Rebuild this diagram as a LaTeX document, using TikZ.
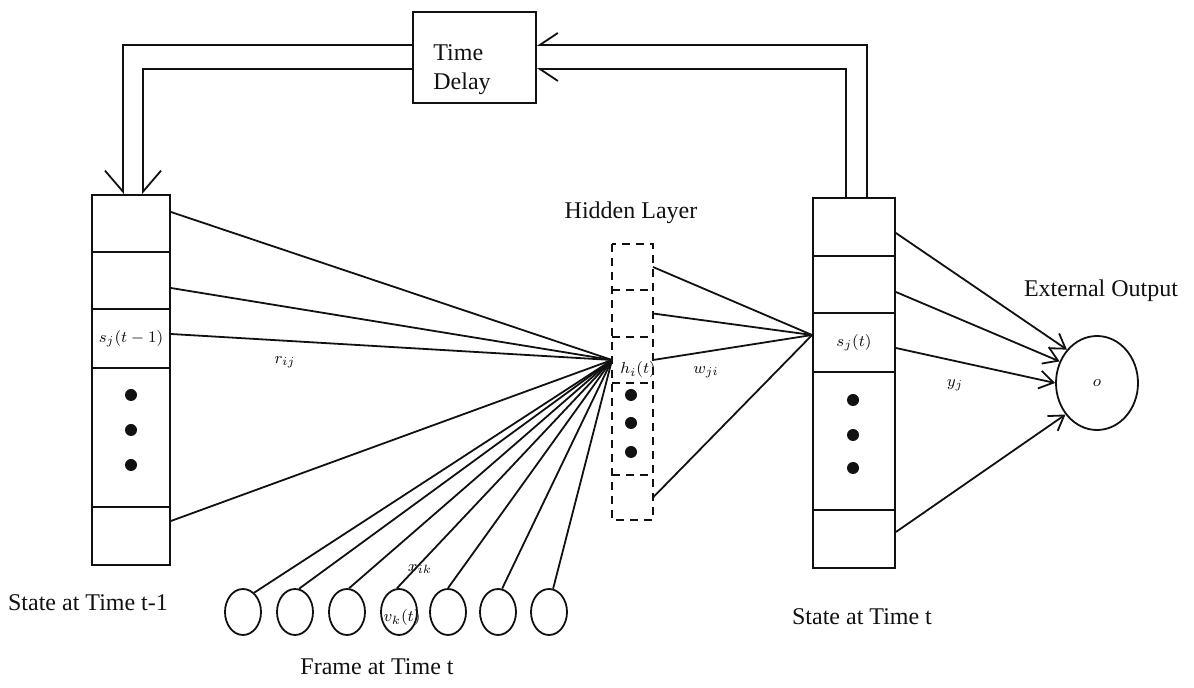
\documentclass[tikz,border=0pt]{standalone}
\usepackage{fontspec}
\setmainfont{Liberation Serif}
\usetikzlibrary{arrows.meta,shapes.geometric}
\definecolor{netink}{HTML}{111111}
\tikzset{
  net link/.style={draw=netink, line width=0.9pt},
  feed left/.style={net link, -{Straight Barb[length=10.5pt,width=18pt,#1]}},
  feed right/.style={net link, -{Straight Barb[length=9pt,width=12pt,#1]}},
  net output/.style={net link, -{Straight Barb[length=7pt,width=9pt]}},
  state cell/.style={rectangle, draw=netink, line width=0.9pt,
    minimum width=39pt, inner sep=0pt},
  hidden cell/.style={rectangle, minimum width=20.5pt, inner sep=0pt,
    outer sep=0pt},
  hidden outline/.style={draw=netink, line width=0.9pt,
    dash pattern=on 4pt off 3pt},
  frame unit/.style={ellipse, draw=netink, line width=0.9pt,
    minimum width=18pt, minimum height=23pt, inner sep=0pt},
  output unit/.style={ellipse, draw=netink, line width=0.9pt,
    minimum width=41pt, minimum height=47pt, inner sep=0pt},
  delay box/.style={rectangle, draw=netink, line width=0.9pt,
    minimum width=61.5pt, minimum height=45.5pt},
  unit dot/.style={circle, fill=netink, inner sep=0pt, minimum size=6pt},
  layer label/.style={font=\fontsize{12}{14.5}\selectfont, text=netink,
    inner sep=0pt},
  weight label/.style={font=\fontsize{8}{9}\selectfont, text=netink,
    inner sep=0pt},
}

\begin{document}
\begin{tikzpicture}[x=0.5pt, y=-0.5pt]
  \useasboundingbox (0,0) rectangle (1194,688);

  % State at time t-1.
  \node[state cell, minimum height=28.5pt] (L1) at (131,223.5) {};
  \node[state cell, minimum height=28.5pt] (L2) at (131,280.5) {};
  \node[state cell, minimum height=29.5pt, weight label] (L3) at (131,338.5)
    {$s_j(t-1)$};
  \node[state cell, minimum height=69.5pt] (L4) at (131,437.5) {};
  \node[state cell, minimum height=29pt] (L5) at (131,536) {};
  \foreach \y [count=\n] in {395,430,465}
    \node[unit dot] (ld\n) at (131,\y) {};
  \node[layer label] (lstate) at (88,603) {State at Time t-1};

  % State at time t.
  \node[state cell, minimum width=41pt, minimum height=29pt] (R1) at (854,227) {};
  \node[state cell, minimum width=41pt, minimum height=28.5pt] (R2) at (854,284.5) {};
  \node[state cell, minimum width=41pt, minimum height=29.5pt, weight label]
    (R3) at (854,342.5) {$s_j(t)$};
  \node[state cell, minimum width=41pt, minimum height=69pt] (R4) at (854,441) {};
  \node[state cell, minimum width=41pt, minimum height=29pt] (R5) at (854,539) {};
  \foreach \y [count=\n] in {400,435,468}
    \node[unit dot] (rd\n) at (853,\y) {};
  \node[layer label] (rstate) at (862,617) {State at Time t};

  % Hidden layer: one dashed column, h_i(t) is the third unit.
  \foreach \y/\h [count=\n] in {267/23, 313.5/23.5, 360/23, 429/46, 497.5/22.5}
    \node[hidden cell, minimum height=\h pt] (H\n) at (632.5,\y) {};
  \draw[hidden outline] (H1.north west) rectangle (H5.south east);
  \foreach \n in {1,...,4}
    \draw[hidden outline] (H\n.south west) -- (H\n.south east);
  \foreach \y [count=\n] in {395,423,452}
    \node[unit dot] (hd\n) at (631,\y) {};
  \node[layer label] (hlabel) at (631,213) {Hidden Layer};

  % Time delay loop: double lines, head barbs on the outer side only.
  \node[delay box] (delay) at (474.5,57.5) {};
  \node[layer label, align=left, anchor=north west] (dtext) at (433,44)
    {Time\\Delay};
  \draw[feed right=right] ([xshift=6.5pt]R1.north) |- ([yshift=6.25pt]delay.east);
  \draw[feed right=left] ([xshift=-4pt]R1.north) |- ([yshift=-5.75pt]delay.east);
  \draw[feed left=right] ([yshift=6.25pt]delay.west) -| ([xshift=-4pt]L1.north);
  \draw[feed left=left] ([yshift=-5.75pt]delay.west) -| ([xshift=6pt]L1.north);

  % Recurrent weights into the hidden unit.
  \draw[net link] ([yshift=5.75pt]L1.east) -- (H3.west);
  \draw[net link] ([yshift=-3.75pt]L2.east) -- (H3.west);
  \draw[net link] ([yshift=2.25pt]L3.east) -- (H3.west);
  \draw[net link] ([yshift=7.5pt]L5.east) -- (H3.west);

  % Frame at time t.
  \foreach \x/\a [count=\k] in {243/60,295/80,347/85,399/95,448/90,498/80,549/80} {
    \node[frame unit] (v\k) at (\x,612) {};
    \draw[net link] (v\k.\a) -- (H3.west);
  }
  \node[layer label] (flabel) at (377,667) {Frame at Time t};

  % Hidden units to the new state.
  \draw[net link] (H1.east) -- ([yshift=3.75pt]R3.west);
  \draw[net link] (H2.east) -- ([yshift=3.75pt]R3.west);
  \draw[net link] (H3.east) -- ([yshift=3.75pt]R3.west);
  \draw[net link] (H5.east) -- ([yshift=3.75pt]R3.west);

  % External output.
  \node[output unit, weight label] (out) at (1097,383) {$o$};
  \node[layer label] (olabel) at (1101,291) {External Output};
  \draw[net output] ([yshift=-3pt]R1.east) -- (out.132);
  \draw[net output] ([yshift=-3.75pt]R2.east) -- (out.150);
  \draw[net output] ([yshift=-2.75pt]R3.east) -- (out.180);
  \draw[net output] ([yshift=3.5pt]R5.east) -- (out.225);

  % Weight and unit labels.
  \node[weight label] (rij) at (285,362) {$r_{ij}$};
  \node[weight label] (hit) at (638,370) {$h_i(t)$};
  \node[weight label] (wji) at (706,372) {$w_{ji}$};
  \node[weight label] (yj) at (955,385) {$y_j$};
  \node[weight label] (xik) at (420,569) {$x_{ik}$};
  \node[weight label] (vkt) at (402,618) {$v_k(t)$};
\end{tikzpicture}
\end{document}
